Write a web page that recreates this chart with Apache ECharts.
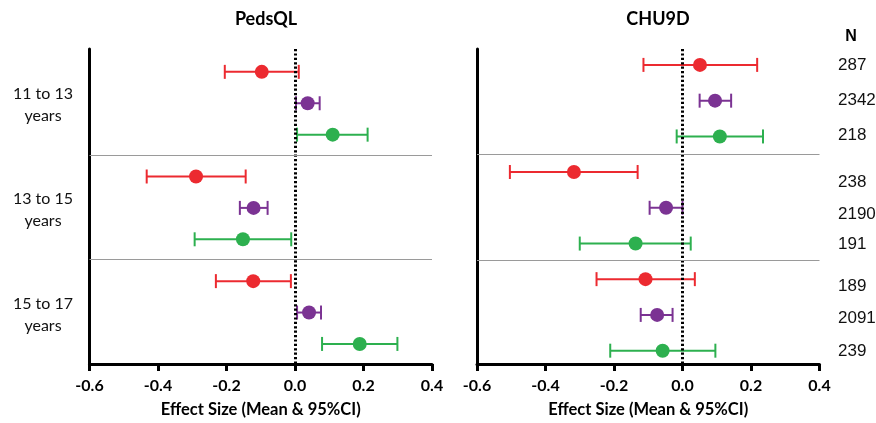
<!DOCTYPE html>
<html>
<head>
<meta charset="utf-8">
<script src="https://cdn.jsdelivr.net/npm/echarts@6/dist/echarts.min.js"></script>
<style>
html,body{margin:0;padding:0;background:#fff;}
#chart{width:876px;height:423px;}
</style>
</head>
<body>
<div id="chart"></div>
<script>
// ---------- DATA ----------
const panelTitles = ['PedsQL', 'CHU9D'];
const ageGroups = ['11 to 13\nyears', '13 to 15\nyears', '15 to 17\nyears'];
const xTickMin = -0.6, xTickMax = 0.4, xTickStep = 0.2;
const axisTitle = 'Effect Size (Mean & 95%CI)';
const nHeader = 'N';
const nValues = [287, 2342, 218, 238, 2190, 191, 189, 2091, 239];

// PedsQL (per age group)
const pedsRedMean = [-0.097, -0.289, -0.122];
const pedsRedLow = [-0.205, -0.433, -0.231];
const pedsRedHigh = [0.011, -0.144, -0.012];
const pedsPurpleMean = [0.037, -0.121, 0.041];
const pedsPurpleLow = [0.003, -0.161, 0.006];
const pedsPurpleHigh = [0.072, -0.080, 0.076];
const pedsGreenMean = [0.110, -0.152, 0.189];
const pedsGreenLow = [0.006, -0.293, 0.079];
const pedsGreenHigh = [0.212, -0.011, 0.299];

// CHU9D (per age group)
const chuRedMean = [0.051, -0.317, -0.108];
const chuRedLow = [-0.114, -0.504, -0.251];
const chuRedHigh = [0.218, -0.131, 0.036];
const chuPurpleMean = [0.095, -0.048, -0.074];
const chuPurpleLow = [0.050, -0.096, -0.122];
const chuPurpleHigh = [0.142, 0.000, -0.029];
const chuGreenMean = [0.109, -0.137, -0.058];
const chuGreenLow = [-0.017, -0.300, -0.211];
const chuGreenHigh = [0.235, 0.024, 0.096];

// ---------- LAYOUT / STYLE ----------
const RED = '#EC2A30', PURPLE = '#7B3393', GREEN = '#2DB04F';
const gridTop = 49, gridHeight = 317;
const layouts = [
  {left: 89.5, width: 342.5, offset: 23, rowStep: 31.6, groupStep: 105.3, seps: [106.7, 212]},
  {left: 477, width: 342.5, offset: 16, rowStep: 36, groupStep: 107.8, seps: [105.7, 213]}
];
const groupLabelY = [105, 210, 314.5];
const groupLabelX = 43;
const nLabelX = 838;
const nLabelY = [65, 100.7, 135.7, 182, 214, 244, 286.7, 318, 351.7];
const titleX = [266, 658], titleY = 19;

function rowPos(L, g, r) { return L.offset + g * L.groupStep + r * L.rowStep; }
function build(L, mean, low, high, r) {
  return mean.map((m, g) => [m, low[g], high[g], rowPos(L, g, r)]);
}

function renderItem(params, api) {
  const y = api.value(3);
  const pL = api.coord([api.value(1), y]);
  const pH = api.coord([api.value(2), y]);
  const pM = api.coord([api.value(0), y]);
  const c = api.visual('color');
  const cap = 7, lw = 2;
  return {
    type: 'group',
    children: [
      {type: 'line', shape: {x1: pL[0], y1: pL[1], x2: pH[0], y2: pH[1]}, style: {stroke: c, lineWidth: lw}},
      {type: 'line', shape: {x1: pL[0], y1: pL[1] - cap, x2: pL[0], y2: pL[1] + cap}, style: {stroke: c, lineWidth: lw}},
      {type: 'line', shape: {x1: pH[0], y1: pH[1] - cap, x2: pH[0], y2: pH[1] + cap}, style: {stroke: c, lineWidth: lw}},
      {type: 'circle', shape: {cx: pM[0], cy: pM[1], r: 7}, style: {fill: c}}
    ]
  };
}

const panels = [
  [[pedsRedMean, pedsRedLow, pedsRedHigh, RED], [pedsPurpleMean, pedsPurpleLow, pedsPurpleHigh, PURPLE], [pedsGreenMean, pedsGreenLow, pedsGreenHigh, GREEN]],
  [[chuRedMean, chuRedLow, chuRedHigh, RED], [chuPurpleMean, chuPurpleLow, chuPurpleHigh, PURPLE], [chuGreenMean, chuGreenLow, chuGreenHigh, GREEN]]
];

const grids = [], xAxes = [], yAxes = [], series = [];
layouts.forEach((L, i) => {
  grids.push({left: L.left, top: gridTop, width: L.width, height: gridHeight});
  xAxes.push({
    type: 'value', gridIndex: i, min: xTickMin, max: xTickMax, interval: xTickStep,
    axisLine: {show: true, onZero: false, lineStyle: {color: '#000', width: 3}},
    axisTick: {show: true, length: 7, lineStyle: {color: '#000', width: 3}},
    splitLine: {show: false},
    axisLabel: {
      color: '#000', fontFamily: 'Lato', fontWeight: 'bold', fontSize: 16, margin: 14,
      formatter: v => (Math.abs(v) < 1e-9 ? 0 : v).toFixed(1)
    },
    name: axisTitle, nameLocation: 'middle', nameGap: 37,
    nameTextStyle: {color: '#000', fontFamily: 'Lato', fontWeight: 'bold', fontSize: 16.5}
  });
  yAxes.push({
    type: 'value', gridIndex: i, min: 0, max: gridHeight, inverse: true,
    axisLine: {show: true, onZero: false, lineStyle: {color: '#000', width: 3}},
    axisTick: {show: false}, axisLabel: {show: false}, splitLine: {show: false}
  });
  series.push({
    type: 'line', xAxisIndex: i, yAxisIndex: i, data: [], z: 1, silent: true,
    markLine: {
      silent: true, symbol: 'none', animation: false, label: {show: false},
      data: [
        {xAxis: 0, lineStyle: {color: '#000', width: 3, type: [2.2, 2.2], cap: 'butt'}},
        ...L.seps.map(s => ({yAxis: s, lineStyle: {color: '#9a9a9a', width: 1, type: 'solid'}}))
      ]
    }
  });
  panels[i].forEach(([m, lo, hi, color], r) => {
    series.push({
      type: 'custom', xAxisIndex: i, yAxisIndex: i, z: 3,
      itemStyle: {color: color},
      renderItem: renderItem,
      encode: {x: [0, 1, 2], y: 3},
      data: build(L, m, lo, hi, r)
    });
  });
});

const graphic = [];
panelTitles.forEach((t, i) => graphic.push({
  type: 'text', x: titleX[i], y: titleY, silent: true,
  style: {text: t, align: 'center', verticalAlign: 'middle', fill: '#000',
          fontFamily: 'Lato', fontWeight: 'bold', fontSize: 18}
}));
ageGroups.forEach((t, g) => graphic.push({
  type: 'text', x: groupLabelX, y: groupLabelY[g], silent: true,
  style: {text: t, align: 'center', verticalAlign: 'middle', fill: '#111',
          fontFamily: 'Lato', fontSize: 16, lineHeight: 22}
}));
graphic.push({
  type: 'text', x: 851, y: 37, silent: true,
  style: {text: nHeader, align: 'center', verticalAlign: 'middle', fill: '#000',
          fontFamily: 'Liberation Sans', fontWeight: 'bold', fontSize: 16}
});
nValues.forEach((n, k) => graphic.push({
  type: 'text', x: nLabelX, y: nLabelY[k], silent: true,
  style: {text: String(n), align: 'left', verticalAlign: 'middle', fill: '#111',
          fontFamily: 'Liberation Sans', fontSize: 17}
}));

const chart = echarts.init(document.getElementById('chart'), null, {renderer: 'canvas'});
chart.setOption({
  animation: false,
  grid: grids, xAxis: xAxes, yAxis: yAxes, series: series,
  graphic: graphic
});
</script>
</body>
</html>
